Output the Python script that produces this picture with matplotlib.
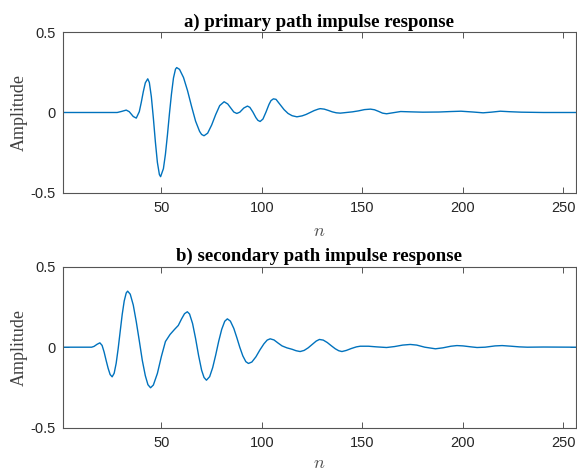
import matplotlib
matplotlib.use("Agg")
import matplotlib.pyplot as plt

plt.rcParams["mathtext.fontset"] = "cm"

# ---- data ----
n_primary = [1, 10, 20, 28, 30, 32.5, 34, 35, 36, 37.5, 39, 40, 41, 42, 43.2, 44, 45, 46, 47, 48, 49,
             49.6, 51, 52, 53, 54, 55, 56, 57, 57.6, 59, 61, 63, 65, 67, 69, 70, 71.2, 73, 75, 77, 79,
             81.2, 83, 84.5, 86, 87.5, 89, 90, 91, 92.8, 94, 95.5, 97, 98, 99.1, 100.5, 102, 103.5,
             104.5, 105.7, 107, 109, 111, 113, 115, 117.4, 120, 122, 124, 126, 128, 129, 131, 133, 135,
             137, 139, 142, 145, 148, 151, 154, 156, 158, 160, 162, 165, 169, 174, 180, 188, 194, 199,
             205, 210, 214, 218.6, 223, 229, 240, 256]
amp_primary = [0, 0, 0, 0, 0.006, 0.015, 0.005, -0.01, -0.025, -0.035, 0.005, 0.064, 0.13, 0.185, 0.21,
               0.187, 0.098, -0.035, -0.183, -0.311, -0.387, -0.40, -0.35, -0.26, -0.14, -0.007, 0.115,
               0.215, 0.27, 0.28, 0.269, 0.218, 0.136, 0.038, -0.054, -0.118, -0.137, -0.145, -0.129,
               -0.078, -0.013, 0.043, 0.067, 0.053, 0.028, 0.003, -0.006, 0.002, 0.015, 0.028, 0.04,
               0.032, 0.003, -0.032, -0.049, -0.056, -0.041, 0.002, 0.05, 0.074, 0.085, 0.082, 0.05,
               0.018, -0.006, -0.020, -0.027, -0.021, -0.012, 0.0, 0.012, 0.021, 0.024, 0.021, 0.013,
               0.004, -0.002, -0.004, 0.0, 0.004, 0.01, 0.018, 0.021, 0.017, 0.007, -0.004, -0.008,
               -0.002, 0.006, 0.004, 0.002, 0.003, 0.006, 0.008, 0.003, -0.002, 0.002, 0.008, 0.005,
               0.002, 0.0, 0.0]

n_secondary = [1, 10, 15.3, 16.5, 18, 19.4, 20.5, 21.5, 22.5, 23.5, 24.5, 25.5, 26.5, 27.5, 28.5, 29.5,
               30.5, 31.5, 32.5, 33.2, 34.5, 36, 37.5, 39, 40.5, 42, 43.3, 44.6, 46, 48, 50, 52, 54.3,
               56.5, 58.4, 60, 61.5, 62.9, 64, 65.5, 67, 68.5, 70, 71.2, 72.4, 74, 75.5, 77, 78.5, 80,
               81.5, 82.8, 84.3, 86, 87.5, 89, 90.5, 92, 93.3, 95, 97, 99, 101, 102.6, 104.1, 106, 108,
               110, 112.4, 115, 117, 119, 121, 123, 125, 127, 128.6, 130.5, 132.5, 134.5, 136.5, 138.2,
               139.8, 142, 144.5, 147, 148.9, 153, 157, 162, 166, 170, 173.8, 177, 181, 186.3, 190, 194,
               197, 200, 204, 207, 211, 216, 219.5, 224, 228, 232, 240, 256]
amp_secondary = [0, 0, 0, 0.005, 0.018, 0.027, 0.011, -0.03, -0.082, -0.131, -0.17, -0.184, -0.162, -0.1,
                 -0.008, 0.098, 0.203, 0.287, 0.337, 0.348, 0.329, 0.262, 0.158, 0.04, -0.082, -0.177,
                 -0.233, -0.252, -0.235, -0.163, -0.057, 0.035, 0.079, 0.11, 0.135, 0.175, 0.208, 0.22,
                 0.206, 0.147, 0.054, -0.052, -0.143, -0.188, -0.205, -0.183, -0.127, -0.049, 0.037,
                 0.111, 0.161, 0.176, 0.162, 0.117, 0.06, -0.001, -0.054, -0.09, -0.101, -0.092, -0.06,
                 -0.017, 0.021, 0.044, 0.052, 0.045, 0.026, 0.008, -0.004, -0.013, -0.022, -0.027, -0.02,
                 -0.004, 0.017, 0.038, 0.048, 0.044, 0.029, 0.009, -0.01, -0.022, -0.027, -0.02, -0.008,
                 0.002, 0.006, 0.006, 0.002, -0.002, 0.004, 0.013, 0.017, 0.013, 0.0, -0.01, -0.004,
                 0.006, 0.01, 0.008, 0.002, -0.002, 0.0, 0.008, 0.01, 0.006, 0.002, 0.0, 0.001, 0.0]

titles = ["a) primary path impulse response", "b) secondary path impulse response"]
x_ticks = [50, 100, 150, 200, 250]
y_ticks = [-0.5, 0, 0.5]
y_tick_labels = ["-0.5", "0", "0.5"]

# ---- figure ----
fig = plt.figure(figsize=(5.77, 4.70), dpi=100)
rects = [[0.109, 0.590, 0.8885, 0.3413], [0.109, 0.090, 0.8885, 0.3426]]
series = [(n_primary, amp_primary), (n_secondary, amp_secondary)]
xlabel_pads = [5, 2.5]

for rect, (nx, ny), title, xpad in zip(rects, series, titles, xlabel_pads):
    ax = fig.add_axes(rect)
    ax.plot(nx, ny, color="#0072BD", lw=1.0)
    ax.set_xlim(1, 256)
    ax.set_ylim(-0.5, 0.5)
    ax.set_xticks(x_ticks)
    ax.set_xticklabels([str(t) for t in x_ticks])
    ax.set_yticks(y_ticks)
    ax.set_yticklabels(y_tick_labels)
    ax.tick_params(direction="in", length=4, width=0.7, top=True, right=True,
                   colors="#555555", labelcolor="#262626", labelsize=10.5)
    ax.tick_params(axis="x", pad=6)
    ax.tick_params(axis="y", pad=5)
    for lab in ax.get_xticklabels() + ax.get_yticklabels():
        lab.set_family("Liberation Sans")
    for s in ax.spines.values():
        s.set_color("#555555")
        s.set_linewidth(0.8)
    ax.set_title(title, family="Liberation Serif", fontweight="bold", fontsize=13.5,
                 color="#000000", pad=4)
    ax.set_ylabel("Amplitude", family="Liberation Serif", fontsize=13, color="#404040",
                  labelpad=2)
    ax.set_xlabel("$n$", fontsize=13, color="#505050", labelpad=xpad)

fig.savefig("out.png", dpi=100)
